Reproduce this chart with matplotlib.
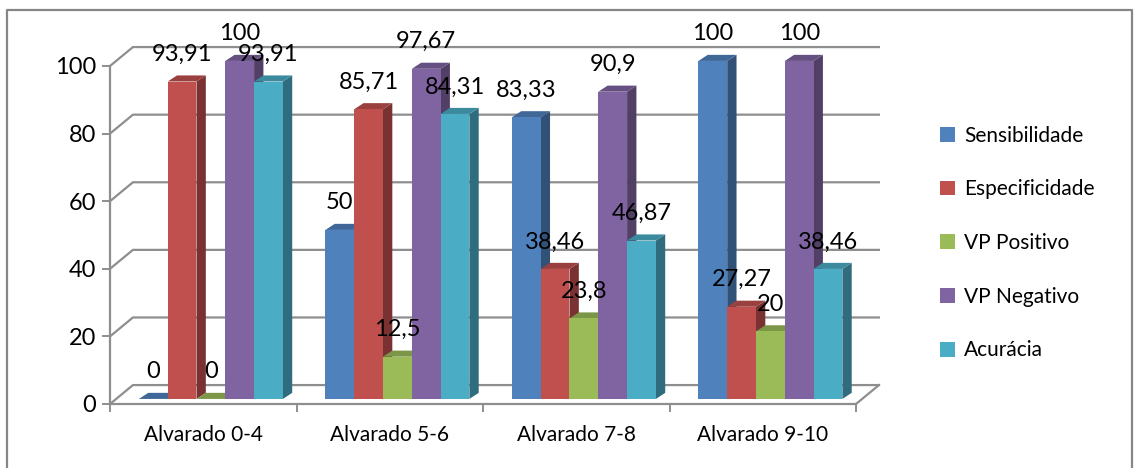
#!/usr/bin/env python3
"""Alvarado score performance - clustered bars with a 3D look"""

import matplotlib
matplotlib.use('Agg')
import matplotlib.pyplot as plt
import matplotlib.patches as mpatches
from matplotlib.colors import to_rgb

W, H = 1136, 468

categories = ['Alvarado 0-4', 'Alvarado 5-6', 'Alvarado 7-8', 'Alvarado 9-10']
series_names = ['Sensibilidade', 'Especificidade', 'VP Positivo', 'VP Negativo', 'Acurácia']
sensibilidade = [0, 50, 83.33, 100]
especificidade = [93.91, 85.71, 38.46, 27.27]
vp_positivo = [0, 12.5, 23.8, 20]
vp_negativo = [100, 97.67, 90.9, 100]
acuracia = [93.91, 84.31, 46.87, 38.46]
y_ticks = [0, 20, 40, 60, 80, 100]

series = [sensibilidade, especificidade, vp_positivo, vp_negativo, acuracia]
colors = ['#4F81BD', '#C0504D', '#9BBB59', '#8064A2', '#4BACC6']

GRID = '#8E8E8E'
FRAME = '#868686'

# depth of the walls and of each bar, in axis units
WALL_DX, WALL_DY = 0.123, 5.6
BAR_DX, BAR_DY = 0.05, 1.8
BAR_W = 0.1544
BAR_START = 0.155
BASE_LIFT = 1.5
LABEL_GAP = 8.0


def shade(color, k):
    return tuple(c * k for c in to_rgb(color))


plt.rcParams['font.family'] = ['Lato', 'DejaVu Sans']

fig = plt.figure(figsize=(W / 100, H / 100), dpi=100, facecolor='white')

# outer frame
fig.add_artist(plt.Line2D([7 / W, 7 / W, 1132 / W, 1132 / W],
                          [0, 1 - 10 / H, 1 - 10 / H, 0],
                          color=FRAME, lw=1.6))

ax = fig.add_axes([110 / W, 1 - 404 / H, 746 / W, 338 / H])
ax.set_xlim(0, 4)
ax.set_ylim(0, 100)
ax.patch.set_visible(False)

# back wall gridlines and the slanted lines on the left wall
for v in y_ticks:
    ax.plot([0, WALL_DX, 4 + WALL_DX], [v, v + WALL_DY, v + WALL_DY],
            color=GRID, lw=1.6, clip_on=False, zorder=1, solid_joinstyle='miter')
# floor edge on the right
ax.plot([4, 4 + WALL_DX], [0, WALL_DY], color=GRID, lw=1.6, clip_on=False, zorder=1)

z = 2
for i, (name, values, color) in enumerate(zip(series_names, series, colors)):
    for j, v in enumerate(values):
        x0 = j + BAR_START + i * BAR_W
        x1 = x0 + BAR_W
        top = BASE_LIFT + v
        side = mpatches.Polygon([(x1, BASE_LIFT), (x1 + BAR_DX, BASE_LIFT + BAR_DY),
                                 (x1 + BAR_DX, top + BAR_DY), (x1, top)],
                                facecolor=shade(color, 0.63), edgecolor='none',
                                clip_on=False, zorder=z + 4 * j * 0 + i)
        cap = mpatches.Polygon([(x0, top), (x0 + BAR_DX, top + BAR_DY),
                                (x1 + BAR_DX, top + BAR_DY), (x1, top)],
                               facecolor=shade(color, 0.8), edgecolor='none',
                               clip_on=False, zorder=z + i)
        ax.add_patch(side)
        ax.add_patch(cap)
        ax.bar(x0, v, width=BAR_W, bottom=BASE_LIFT, align='edge', color=color,
               clip_on=False, zorder=z + i + 0.5)
        label = f'{v:g}'.replace('.', ',')
        ax.text(x0 + BAR_W / 2, top + LABEL_GAP, label, ha='center', va='center',
                fontsize=17, color='black', zorder=20, clip_on=False)

# axes
for s in ['top', 'right']:
    ax.spines[s].set_visible(False)
for s in ['left', 'bottom']:
    ax.spines[s].set_color(GRID)
    ax.spines[s].set_linewidth(1.6)
    ax.spines[s].set_zorder(1.5)
ax.set_yticks(y_ticks)
ax.set_xticks(range(5))
ax.set_xticklabels([])
ax.set_xticks([k + 0.5 for k in range(4)], minor=True)
ax.set_xticklabels(categories, minor=True, fontsize=15)
ax.tick_params(axis='x', which='major', length=6, width=1.4, color=GRID)
ax.tick_params(axis='x', which='minor', length=0, pad=15)
ax.tick_params(axis='y', length=6, width=1.4, color=GRID, labelsize=17, pad=4)

# legend
handles = [mpatches.Patch(facecolor=c, label=n) for c, n in zip(colors, series_names)]
fig.legend(handles=handles, loc='center left', bbox_to_anchor=(940 / W, 1 - 243 / H),
           frameon=False, fontsize=15, handlelength=0.72, handleheight=0.72,
           handletextpad=0.45, labelspacing=1.62, borderpad=0, borderaxespad=0)

fig.savefig('out.png', dpi=100, facecolor='white')
